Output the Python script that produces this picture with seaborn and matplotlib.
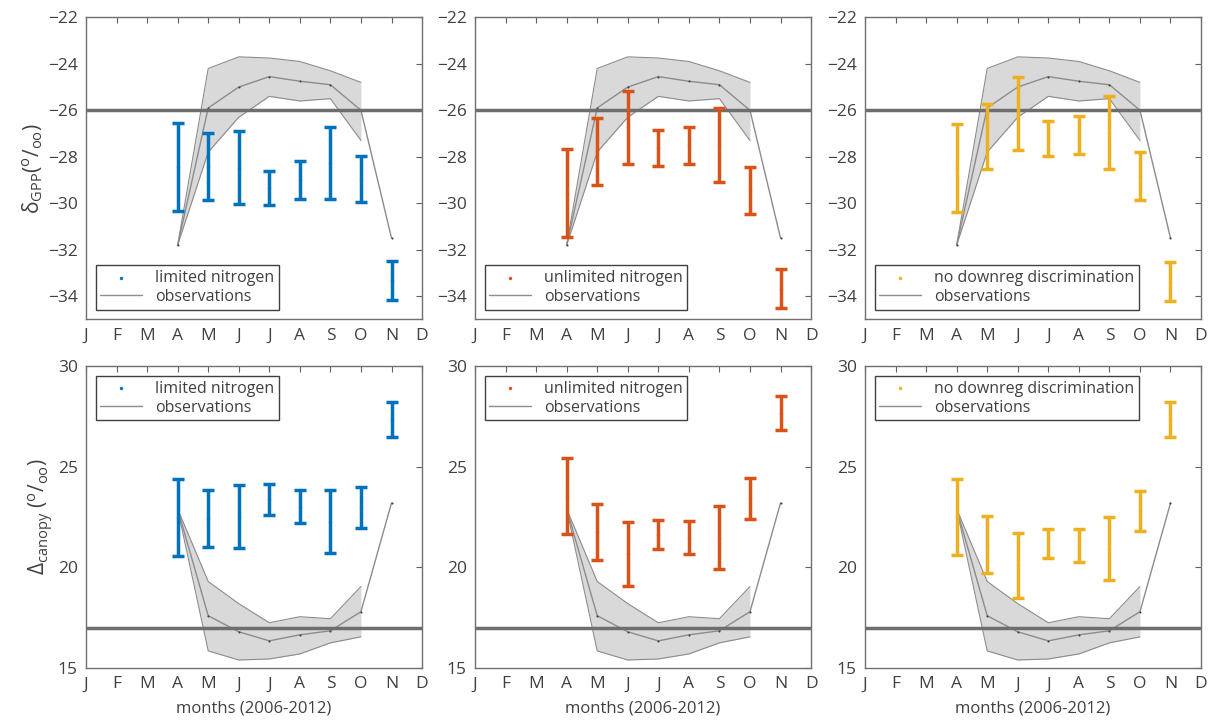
import numpy as np
import pandas as pd
import matplotlib
matplotlib.use('Agg')
import matplotlib.pyplot as plt
import seaborn as sns

months = ['J', 'F', 'M', 'A', 'M', 'J', 'J', 'A', 'S', 'O', 'N', 'D']
obs_months = [4, 5, 6, 7, 8, 9, 10, 11]
band_months = [4, 5, 6, 7, 8, 9, 10]

# observations, delta GPP
gpp_obs = [-31.8, -25.9, -25.0, -24.55, -24.75, -24.9, -26.0, -31.5]
gpp_obs_hi = [-31.8, -24.2, -23.7, -23.75, -23.9, -24.3, -24.8]
gpp_obs_lo = [-31.8, -27.8, -26.3, -25.4, -25.6, -25.5, -27.3]

# observations, Delta canopy
can_obs = [22.9, 17.6, 16.8, 16.35, 16.65, 16.85, 17.8, 23.2]
can_obs_hi = [22.9, 19.3, 18.2, 17.25, 17.55, 17.45, 19.05]
can_obs_lo = [22.9, 15.85, 15.4, 15.45, 15.7, 16.25, 16.55]

# model runs: lower and upper ends of each bar
gpp_lim_lo = [-30.35, -29.85, -30.05, -30.1, -29.8, -29.8, -29.95, -34.15]
gpp_lim_hi = [-26.55, -27.0, -26.9, -28.6, -28.2, -26.7, -27.95, -32.5]
gpp_unl_lo = [-31.45, -29.2, -28.3, -28.4, -28.3, -29.1, -30.45, -34.5]
gpp_unl_hi = [-27.65, -26.35, -25.15, -26.85, -26.7, -25.9, -28.45, -32.85]
gpp_nod_lo = [-30.4, -28.55, -27.7, -27.95, -27.9, -28.55, -29.85, -34.2]
gpp_nod_hi = [-26.6, -25.75, -24.55, -26.45, -26.25, -25.4, -27.8, -32.55]

can_lim_lo = [20.55, 21.0, 20.95, 22.6, 22.2, 20.7, 21.95, 26.5]
can_lim_hi = [24.4, 23.85, 24.1, 24.15, 23.85, 23.85, 24.0, 28.2]
can_unl_lo = [21.65, 20.35, 19.1, 20.9, 20.65, 19.9, 22.4, 26.85]
can_unl_hi = [25.45, 23.15, 22.25, 22.35, 22.3, 23.05, 24.45, 28.5]
can_nod_lo = [20.6, 19.7, 18.5, 20.45, 20.25, 19.35, 21.8, 26.5]
can_nod_hi = [24.4, 22.55, 21.7, 21.9, 21.9, 22.5, 23.8, 28.2]

gpp_ref = -26
can_ref = 17

run_names = ['limited nitrogen', 'unlimited nitrogen', 'no downreg discrimination']
run_colors = ['#0072BD', '#D95319', '#EDB120']

sns.set_theme(style="white")
plt.rcParams['font.family'] = ['Open Sans', 'DejaVu Sans']
plt.rcParams['mathtext.fontset'] = 'custom'
plt.rcParams['mathtext.rm'] = 'Open Sans'
plt.rcParams['mathtext.it'] = 'Open Sans'
text_col = '#404040'

fig = plt.figure(figsize=(12.1, 7.24), dpi=100)
lefts = [0.0711, 0.3926, 0.7149]
bottoms = [0.559, 0.0773]
w, h = 0.2777, 0.417

rows = [
    dict(obs=gpp_obs, hi=gpp_obs_hi, lo=gpp_obs_lo, ref=gpp_ref,
         bars=[(gpp_lim_lo, gpp_lim_hi), (gpp_unl_lo, gpp_unl_hi), (gpp_nod_lo, gpp_nod_hi)],
         ylim=(-35, -22), yticks=np.arange(-34, -21, 2),
         ylabel='δ$_{\\mathrm{GPP}}$($^{\\mathrm{o}}$/$_{\\mathrm{oo}}$)', legloc='lower left'),
    dict(obs=can_obs, hi=can_obs_hi, lo=can_obs_lo, ref=can_ref,
         bars=[(can_lim_lo, can_lim_hi), (can_unl_lo, can_unl_hi), (can_nod_lo, can_nod_hi)],
         ylim=(15, 30), yticks=[15, 20, 25, 30],
         ylabel='Δ$_{\\mathrm{canopy}}$ ($^{\\mathrm{o}}$/$_{\\mathrm{oo}}$)', legloc='upper left'),
]

for r, row in enumerate(rows):
    for c in range(3):
        ax = fig.add_axes([lefts[c], bottoms[r], w, h])
        ax.fill_between(band_months, row['lo'], row['hi'], color='#d9d9d9', lw=0, zorder=1)
        ax.plot(band_months, row['hi'], color='#8c8c8c', lw=0.8, zorder=2)
        ax.plot(band_months, row['lo'], color='#8c8c8c', lw=0.8, zorder=2)
        obs_df = pd.DataFrame({'month': obs_months, 'value': row['obs']})
        sns.lineplot(data=obs_df, x='month', y='value', ax=ax, color='#8c8c8c', lw=1,
                     marker='.', markersize=3, markeredgewidth=0, markerfacecolor='#404040',
                     label='observations', zorder=3)
        ax.axhline(row['ref'], color='#6e6e6e', lw=2.5, zorder=4)

        lo, hi = row['bars'][c]
        lo = np.array(lo)
        hi = np.array(hi)
        mid = (lo + hi) / 2
        ax.errorbar(obs_months, mid, yerr=[mid - lo, hi - mid], fmt='none',
                    ecolor=run_colors[c], elinewidth=2.5, capsize=4, capthick=2.5, zorder=5)
        run_df = pd.DataFrame({'month': obs_months, 'value': mid})
        sns.scatterplot(data=run_df, x='month', y='value', ax=ax, color=run_colors[c],
                        s=6, linewidth=0, label=run_names[c], zorder=6)

        ax.set_xlim(1, 12)
        ax.set_ylim(*row['ylim'])
        ax.set_xticks(range(1, 13))
        ax.set_xticklabels(months)
        ax.set_yticks(row['yticks'])
        ax.tick_params(direction='in', top=True, right=True, length=4, width=0.8,
                       colors='#606060', labelcolor=text_col, labelsize=12.5, pad=6)
        for sp in ax.spines.values():
            sp.set_color('#707070')
            sp.set_linewidth(1)
        if r == 1:
            ax.set_xlabel('months (2006-2012)', color=text_col, fontsize=12, labelpad=6)
        else:
            ax.set_xlabel('')
        if c == 0:
            ax.set_ylabel(row['ylabel'], color=text_col, fontsize=15, labelpad=2)
        else:
            ax.set_ylabel('')

        handles, labels = ax.get_legend_handles_labels()
        order = [labels.index(run_names[c]), labels.index('observations')]
        leg = ax.legend([handles[i] for i in order], [labels[i] for i in order],
                        loc=row['legloc'], fancybox=False, framealpha=1, edgecolor='#404040',
                        fontsize=11.5, handlelength=2.6, borderpad=0.3, labelspacing=0.2,
                        borderaxespad=0.6)
        leg.get_frame().set_linewidth(1)
        for ln in leg.get_lines():
            ln.set_marker('')
        for t in leg.get_texts():
            t.set_color(text_col)

fig.savefig('out.png', dpi=100)
